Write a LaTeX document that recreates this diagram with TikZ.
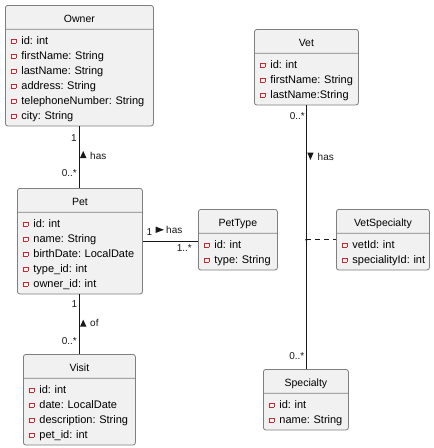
\documentclass[tikz,border=0pt]{standalone}
\usepackage{fontspec}
\setmainfont{Liberation Sans}
\usetikzlibrary{shapes.multipart}

\definecolor{boxfill}{HTML}{F1F1F1}
\definecolor{boxline}{HTML}{7F7F7F}
\definecolor{linkline}{HTML}{181818}
\definecolor{privred}{HTML}{C82930}

\frenchspacing
% one attribute row: red private marker, then the text
\newcommand{\rowstrut}{\rule[-3.5pt]{0pt}{15pt}}
\newcommand{\titlestrut}{\rule[-3.5pt]{0pt}{17pt}}
\newcommand{\attr}[1]{\mbox{\rowstrut\hspace*{1pt}{\color{privred}\setlength{\fboxsep}{0pt}\setlength{\fboxrule}{0.8pt}\raisebox{1.2pt}{\fbox{\rule{0pt}{3.4pt}\hspace{3.4pt}}}}\hspace{5pt}#1}}
\newcommand{\cname}[1]{\hbox to \hsize{\hss\fontsize{10.5}{15}\selectfont\titlestrut #1\hss}}

\tikzset{
  umlclass/.style={rectangle split, rectangle split parts=2, draw=boxline, fill=boxfill,
    line width=0.8pt, rounded corners=2.5pt, inner xsep=5pt, inner ysep=3pt,
    align=left, anchor=north west, font=\fontsize{11}{15}\selectfont},
  mult/.style={inner sep=0pt, font=\fontsize{10}{12}\selectfont, text=linkline},
  assoc/.style={draw=linkline, line width=0.9pt},
}

\begin{document}
\begin{tikzpicture}[x=1pt, y=-1pt]
  \path[use as bounding box, fill=white] (0,0) rectangle (434,448);

  % classes
  \node[umlclass, text width=138pt] (owner) at (5,5) {\cname{Owner}
    \nodepart{two}\attr{id: int}\\\attr{firstName: String}\\\attr{lastName: String}\\
    \attr{address: String}\\\attr{telephoneNumber: String}\\\attr{city: String}};
  \node[umlclass, text width=115pt] (pet) at (17,188) {\cname{Pet}
    \nodepart{two}\attr{id: int}\\\attr{name: String}\\\attr{birthDate: LocalDate}\\
    \attr{type\_id: int}\\\attr{owner\_id: int}};
  \node[umlclass, text width=69pt] (pettype) at (198,209) {\cname{PetType}
    \nodepart{two}\attr{id: int}\\\attr{type: String}};
  \node[umlclass, text width=102pt] (visit) at (23,354) {\cname{Visit}
    \nodepart{two}\attr{id: int}\\\attr{date: LocalDate}\\\attr{description: String}\\
    \attr{pet\_id: int}};
  \node[umlclass, text width=94pt] (vet) at (254,29) {\cname{Vet}
    \nodepart{two}\attr{id: int}\\\attr{firstName: String}\\\attr{lastName:String}};
  \node[umlclass, text width=83pt] (vetspec) at (336,209) {\cname{VetSpecialty}
    \nodepart{two}\attr{vetId: int}\\\attr{specialityId: int}};
  \node[umlclass, text width=75pt] (specialty) at (263,369) {\cname{Specialty}
    \nodepart{two}\attr{id: int}\\\attr{name: String}};

  % owner -- pet
  \draw[assoc] (owner.south) -- (owner.south |- pet.north);
  \node[mult, anchor=base east] (ownerone) at (77,141) {1};
  \node[mult, anchor=base east] (ownermany) at (77,176.5) {0..*};
  \fill[linkline] (80,158) -- (86.5,158) -- (83.2,151) -- cycle;
  \node[mult, anchor=base west] (ownerhas) at (90,159) {has};

  % pet -- pettype
  \draw[assoc] (pet.east) -- (pet.east -| pettype.west);
  \node[mult, anchor=base east] (typeone) at (152.5,235) {1};
  \node[mult, anchor=base east] (typemany) at (192,251.5) {1..*};
  \fill[linkline] (155.5,226.5) -- (155.5,233) -- (164,229.8) -- cycle;
  \node[mult, anchor=base west] (typehas) at (166,233.5) {has};

  % pet -- visit
  \draw[assoc] (pet.south) -- (pet.south |- visit.north);
  \node[mult, anchor=base east] (visitone) at (77.5,307.7) {1};
  \node[mult, anchor=base east] (visitmany) at (77,344) {0..*};
  \fill[linkline] (80,326.7) -- (86.5,326.7) -- (83.2,319.7) -- cycle;
  \node[mult, anchor=base west] (visitof) at (90,326.5) {of};

  % vet -- specialty
  \draw[assoc] (vet.south) -- (vet.south |- specialty.north);
  \node[mult, anchor=base east] (vetmany) at (305,119.5) {0..*};
  \node[mult, anchor=base east] (specmany) at (304.5,359.5) {0..*};
  \fill[linkline] (307.3,152.5) -- (313.6,152.5) -- (310.4,160) -- cycle;
  \node[mult, anchor=base west] (vethas) at (317.5,160) {has};

  % association class
  \coordinate (vsjoin) at (vet.south |- vetspec.west);
  \draw[assoc, dash pattern=on 5pt off 4pt] (vsjoin) -- (vetspec.west);
  \fill[linkline] (vsjoin) circle (1.2pt);
\end{tikzpicture}
\end{document}
